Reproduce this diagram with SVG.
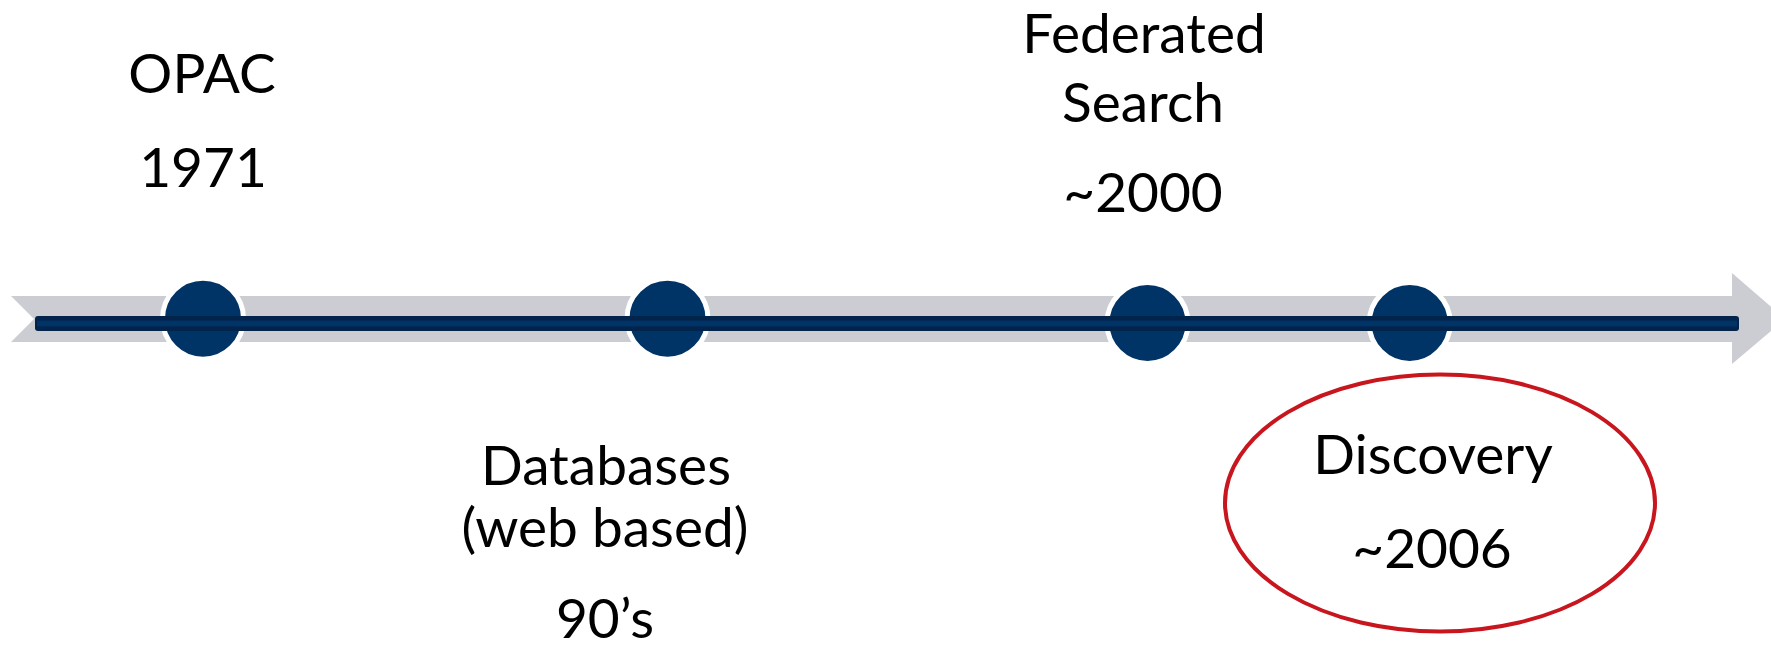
<svg xmlns="http://www.w3.org/2000/svg" width="1771" height="650" viewBox="0 0 1771 650">
  <style>
    .lbl { font-family: Lato, "Open Sans", "Liberation Sans", sans-serif; font-size: 55px; fill: #000000; text-anchor: middle; }
    .dot { fill: #003366; stroke: #ffffff; stroke-width: 5; }
  </style>
  <rect width="1771" height="650" fill="#ffffff"/>
  <g id="timeline">
    <polygon points="11,296 1732,296 1732,273 1785,319 1732,364 1732,342 11,342 34,319" fill="#cbcdd2"/>
  </g>
  <g id="node-opac">
    <circle class="dot" cx="203" cy="318.7" r="40.5"/>
    <text class="lbl" x="202" y="93">OPAC</text>
    <text class="lbl" x="203" y="187">1971</text>
  </g>
  <g id="node-databases">
    <circle class="dot" cx="667.5" cy="318.7" r="40.5"/>
    <text class="lbl" x="606" y="485">Databases</text>
    <text class="lbl" x="605" y="547">(web based)</text>
    <text class="lbl" x="605" y="638">90’s</text>
  </g>
  <g id="node-federated">
    <circle class="dot" cx="1147.5" cy="323" r="40.5"/>
    <text class="lbl" x="1144" y="53">Federated</text>
    <text class="lbl" x="1143" y="122">Search</text>
    <text class="lbl" x="1143" y="212">~2000</text>
  </g>
  <g id="node-discovery">
    <circle class="dot" cx="1409.7" cy="323" r="40.5"/>
    <ellipse cx="1440" cy="503" rx="215" ry="128.5" fill="none" stroke="#c8161e" stroke-width="4"/>
    <text class="lbl" x="1433" y="474">Discovery</text>
    <text class="lbl" x="1432" y="568">~2006</text>
  </g>
  <g id="connectors">
    <rect x="35" y="316" width="1704" height="15" rx="3" fill="#02234a"/>
    <rect x="37" y="320.5" width="1700" height="6" fill="#003366"/>
  </g>
</svg>
